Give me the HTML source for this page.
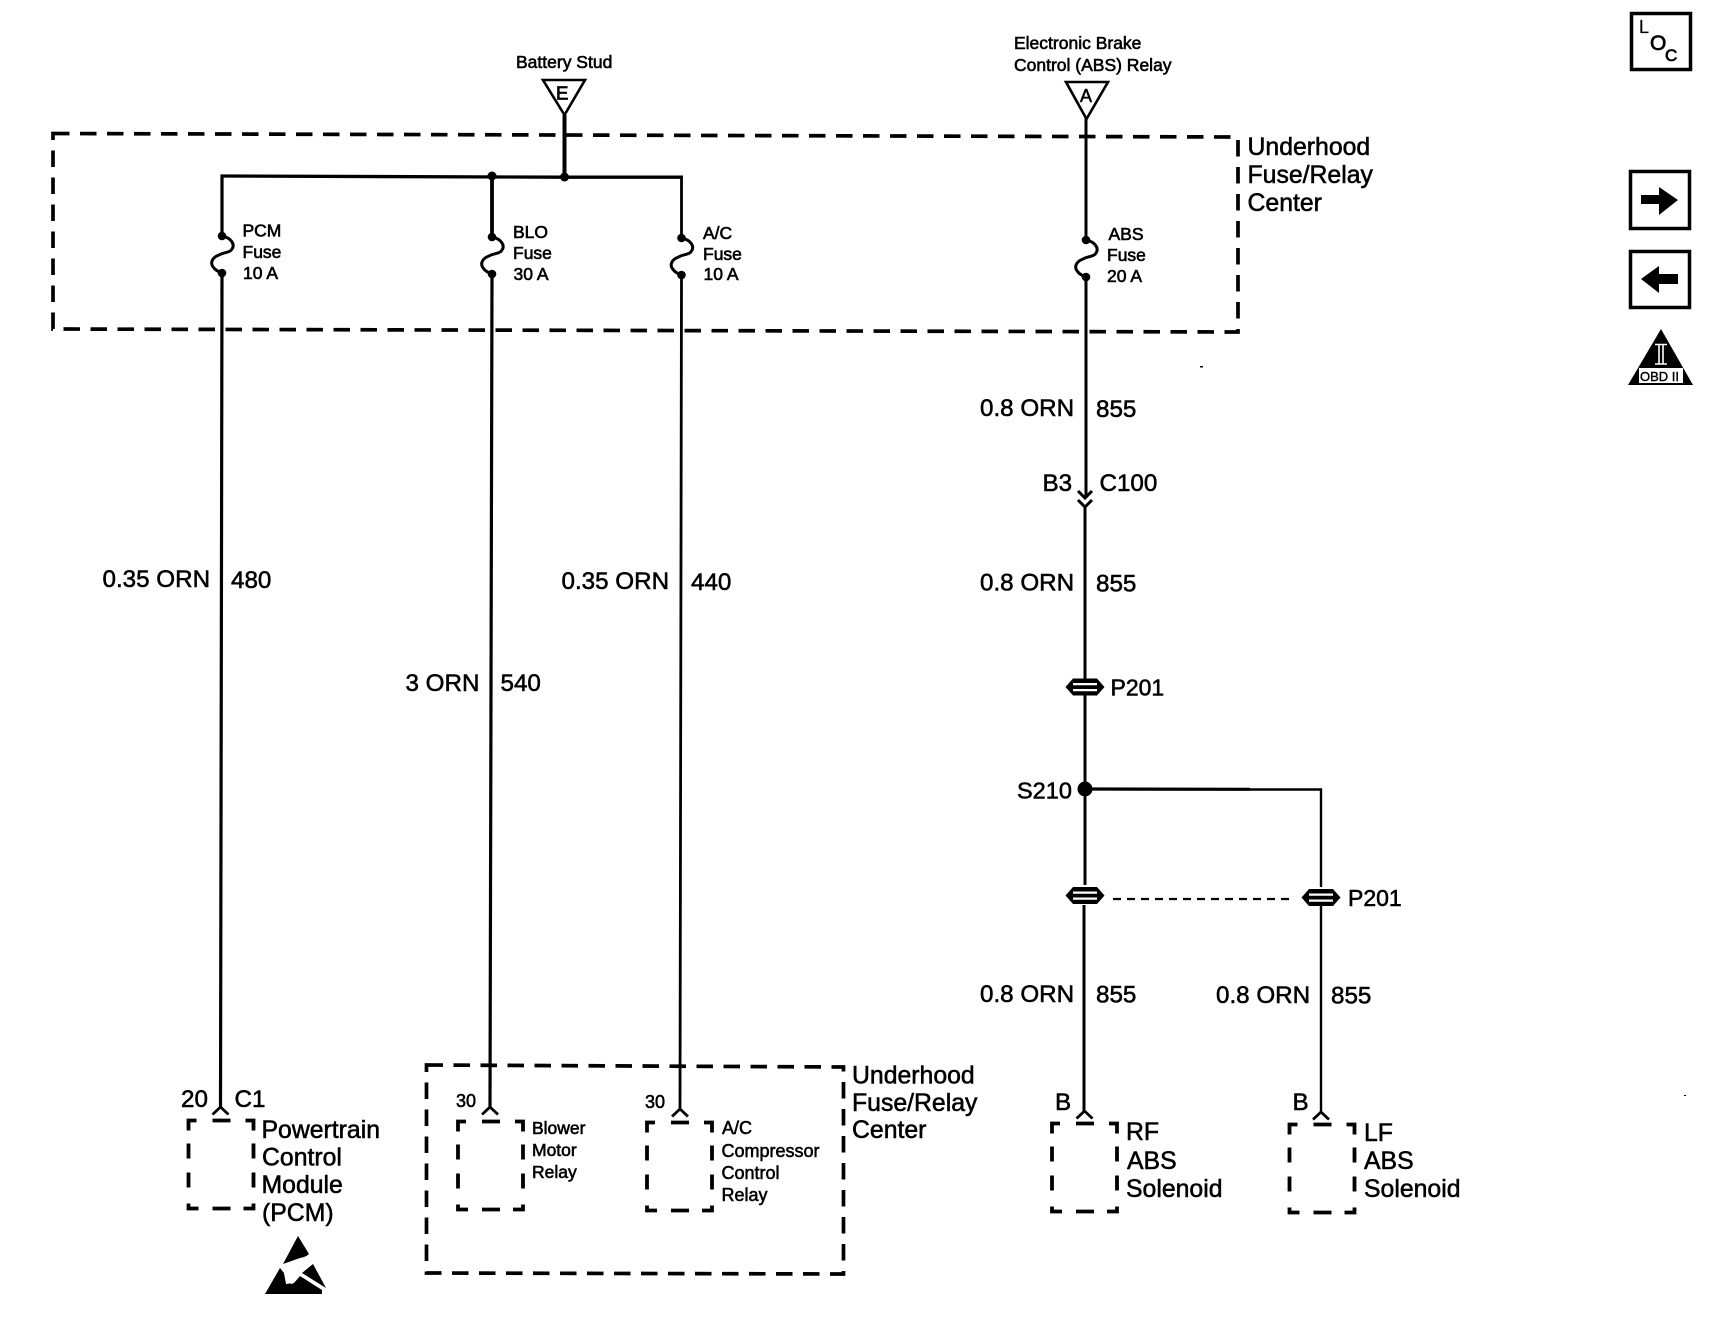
<!DOCTYPE html>
<html>
<head>
<meta charset="utf-8">
<style>
html,body{margin:0;padding:0;background:#fff;width:1712px;height:1344px;overflow:hidden}
svg{display:block}
text{font-family:"Liberation Sans",sans-serif;fill:#000;stroke:#000;stroke-width:.55px}
.m{font-size:24.2px}
.l{font-size:24.8px}
.s{font-size:17.5px;stroke-width:.6px}
.w{fill:none;stroke:#000;stroke-linecap:butt}
</style>
</head>
<body>
<svg xmlns="http://www.w3.org/2000/svg" width="1712" height="1344" viewBox="0 0 1712 1344">
<defs>
<path id="box" fill="none" stroke="#000" stroke-width="3.8" d="M0 10V0H8M24 0H42M57 0H65V10M0 23V38M0 52V67M0 83V88H10M24 88H42M55 88H65V83M65 23V38M65 52V67"/>
<g id="fuse">
<circle cx="0" cy="0" r="4.300"/>
<circle cx="0" cy="37" r="4.300"/>
<path fill="none" stroke="#000" stroke-width="3" d="M0 0C10 2 13 9 10 13C8 17 2 16-3 19C-11 22-12 28-8 32C-6 35-2 36 0 37"/>
</g>
<g id="conn">
<path d="M-19.500 8.500L-12 0H12L19.500 8.500L12 17H-12Z"/>
<path fill="#fff" d="M-12 4.500H12V6.800H-12ZM-12 10.500H12V12.800H-12Z"/>
</g>
<path id="up" fill="none" stroke="#000" stroke-width="2.800" d="M-8 7.500L0 0L8 7.500"/>
</defs>

<!-- large dashed enclosures -->
<path class="w" stroke-width="3.700" stroke-dasharray="16.500 10.500" d="M53 133.500L1238 137V332L53 329Z"/>
<path class="w" stroke-width="3.700" stroke-dasharray="16.500 10.500" d="M426.500 1065L843.500 1067V1274L426.500 1273Z"/>

<!-- wires -->
<path class="w" stroke-width="3.200" d="M222 175V236M222 273L220.500 1108"/>
<path class="w" stroke-width="3.800" d="M492 176V237"/>
<path class="w" stroke-width="3.200" d="M492 274L490 1108"/>
<path class="w" stroke-width="2.800" d="M681.500 177V237M681.500 275L680 1110"/>
<path class="w" stroke-width="3.300" d="M220.500 176L564 177.200L683 177.200"/>
<path class="w" stroke-width="4" d="M564.500 115V178"/>
<circle cx="492" cy="176" r="4.500"/>
<circle cx="564.500" cy="177" r="4.500"/>
<path class="w" stroke-width="3" d="M1086 118V238M1086 278V498M1085 507V680M1085 695V885M1084 905V1112"/>
<path class="w" stroke-width="3.200" d="M1085 789L1250 789.300"/>
<path class="w" stroke-width="2.400" d="M1250 789.500H1321V887M1321 905V1113"/>
<circle cx="1085" cy="789" r="7.500"/>
<path class="w" stroke-width="2.300" stroke-dasharray="8 6" d="M1113 899H1294"/>

<!-- source triangles -->
<path class="w" stroke-width="2.600" d="M543 80H585L564.500 115Z"/>
<path class="w" stroke-width="2.600" d="M1066 82H1108L1086.500 119Z"/>

<!-- fuses -->
<use href="#fuse" x="222" y="236"/>
<use href="#fuse" x="492" y="237"/>
<use href="#fuse" x="681.500" y="238"/>
<use href="#fuse" x="1086" y="240"/>

<!-- C100 -->
<path class="w" stroke-width="3" d="M1078 491L1085 498L1092 491"/>
<path class="w" stroke-width="3" d="M1078 500L1085 507L1092 500"/>

<!-- inline connectors -->
<use href="#conn" x="1085" y="678.500"/>
<use href="#conn" x="1085" y="887"/>
<use href="#conn" x="1321" y="889"/>

<!-- component arrows -->
<use href="#up" x="220.500" y="1107"/>
<use href="#up" x="490" y="1107"/>
<use href="#up" x="680" y="1109"/>
<use href="#up" x="1084.500" y="1111"/>
<use href="#up" x="1321" y="1112"/>

<!-- component boxes -->
<use href="#box" x="188.500" y="1120.500"/>
<use href="#box" x="458" y="1121.500"/>
<use href="#box" x="647" y="1122.500"/>
<use href="#box" x="1052" y="1123.500"/>
<use href="#box" x="1289.500" y="1124.500"/>

<!-- text: sources -->
<text x="516" y="68" class="s">Battery Stud</text>
<text x="556" y="99.500" style="font-size:18.500px;stroke-width:.8px">E</text>
<text x="1014" y="49" class="s">Electronic Brake</text>
<text x="1014" y="71" class="s">Control (ABS) Relay</text>
<text x="1080" y="102" style="font-size:18px">A</text>

<text x="1247.500" y="155" class="l">Underhood</text>
<text x="1247.500" y="183" class="l">Fuse/Relay</text>
<text x="1247.500" y="211" class="l">Center</text>

<text x="242.500" y="236.500" class="s">PCM</text>
<text x="242.500" y="258" class="s">Fuse</text>
<text x="243" y="279" class="s">10 A</text>
<text x="513" y="238" class="s">BLO</text>
<text x="513" y="259" class="s">Fuse</text>
<text x="513.500" y="280" class="s">30 A</text>
<text x="703" y="239" class="s">A/C</text>
<text x="703" y="260" class="s">Fuse</text>
<text x="703.500" y="280" class="s">10 A</text>
<text x="1108.500" y="240" class="s">ABS</text>
<text x="1107" y="261" class="s">Fuse</text>
<text x="1107" y="282" class="s">20 A</text>

<!-- wire labels -->
<text x="102.500" y="587" class="m">0.35 ORN</text>
<text x="231" y="588" class="m">480</text>
<text x="561.500" y="589" class="m">0.35 ORN</text>
<text x="691" y="590" class="m">440</text>
<text x="405.500" y="691" class="m">3 ORN</text>
<text x="500.500" y="691" class="m">540</text>
<text x="980" y="416" class="m">0.8 ORN</text>
<text x="1096" y="417" class="m">855</text>
<text x="1042.500" y="491" class="m">B3</text>
<text x="1099.500" y="491" class="m">C100</text>
<text x="980" y="590.500" class="m">0.8 ORN</text>
<text x="1096" y="591.500" class="m">855</text>
<text x="1110.500" y="695.500" style="font-size:23px">P201</text>
<text x="1017" y="798.500" style="font-size:23.500px">S210</text>
<text x="1348" y="906" style="font-size:23px">P201</text>
<text x="980" y="1002" class="m">0.8 ORN</text>
<text x="1096" y="1002.500" class="m">855</text>
<text x="1216" y="1003" class="m">0.8 ORN</text>
<text x="1331" y="1003.500" class="m">855</text>

<!-- component labels -->
<text x="181" y="1107" class="m">20</text>
<text x="234.500" y="1107" class="m">C1</text>
<text x="261.500" y="1138" class="l">Powertrain</text>
<text x="262" y="1165.500" class="l">Control</text>
<text x="261.500" y="1193" class="l">Module</text>
<text x="262" y="1221" class="l">(PCM)</text>

<text x="456" y="1107" style="font-size:18px">30</text>
<text x="645" y="1108" style="font-size:18px">30</text>
<text x="532" y="1134" class="s">Blower</text>
<text x="532" y="1156" class="s">Motor</text>
<text x="532" y="1178" class="s">Relay</text>
<text x="722" y="1134" style="font-size:18px">A/C</text>
<text x="721.500" y="1157" style="font-size:18px">Compressor</text>
<text x="721.500" y="1179" style="font-size:18px">Control</text>
<text x="721.500" y="1201" style="font-size:18px">Relay</text>

<text x="852" y="1083.500" class="l">Underhood</text>
<text x="852" y="1111" class="l">Fuse/Relay</text>
<text x="852" y="1138" class="l">Center</text>

<text x="1055" y="1110" class="m">B</text>
<text x="1292.500" y="1110" class="m">B</text>
<text x="1126" y="1140" class="l">RF</text>
<text x="1127" y="1169" class="l">ABS</text>
<text x="1126" y="1197" class="l">Solenoid</text>
<text x="1364" y="1141" class="l">LF</text>
<text x="1364" y="1169" class="l">ABS</text>
<text x="1364" y="1197" class="l">Solenoid</text>

<!-- ESD icon -->
<path d="M298 1236L309 1254Q306 1257 300 1258L283 1264Z"/>
<path d="M313 1264L326 1288L302 1273Z"/>
<path d="M265 1294L280 1268L284 1273L286 1284L294 1283L300 1276L322 1290V1294Z"/>
<path d="M287 1275L290 1283M291 1278L292 1284" stroke="#fff" stroke-width="1.500" fill="none"/>

<!-- right icons -->
<rect x="1631.500" y="13.500" width="59" height="56" fill="none" stroke="#000" stroke-width="3.500"/>
<text x="1639" y="33" style="font-size:18px;stroke-width:.2px">L</text>
<text x="1650" y="50" style="font-size:21px;stroke-width:.7px">O</text>
<text x="1665" y="61" style="font-size:17px;stroke-width:.7px">C</text>

<rect x="1630.500" y="171.500" width="59" height="57" fill="none" stroke="#000" stroke-width="3.500"/>
<path d="M1641 195H1659V187L1678 200L1659 215V204H1641Z"/>
<rect x="1630.500" y="251.500" width="59" height="56" fill="none" stroke="#000" stroke-width="3.500"/>
<path d="M1678 274H1659V266L1641 279L1659 293V284H1678Z"/>

<path d="M1661 329L1693 385H1628Z"/>
<path d="M1655 344.500H1667M1655 364H1667M1659 345V364M1663 345V364" stroke="#fff" stroke-width="1.600" fill="none"/>
<rect x="1639" y="368" width="44" height="15" fill="#fff"/>
<text x="1640" y="381" style="font-size:13px;stroke-width:.4px">OBD II</text>

<!-- specks -->
<rect x="1200" y="366" width="3" height="1.500"/>
<rect x="1684" y="1095" width="2" height="1"/>
</svg>
</body>
</html>
